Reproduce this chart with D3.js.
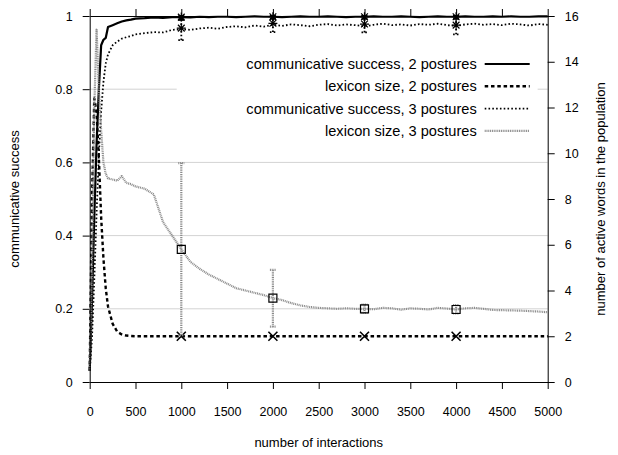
<!DOCTYPE html>
<html>
<head>
<meta charset="utf-8">
<script src="https://cdn.jsdelivr.net/npm/d3@7"></script>
<style>
    body { margin: 0; background: #fff; }
    svg text { font-family: "Liberation Sans", Arial, Helvetica, sans-serif; fill: #000; }
    .axis path, .axis line { stroke: #000; stroke-width: 1; }
</style>
</head>
<body>
<div id="chart"></div>
<script>

// sampling points (number of interactions)
const iterations = [0, 25, 50, 75, 100, 125, 150, 175, 200, 250, 300, 350, 400, 450, 500,
    600, 700, 800, 900, 1000, 1100, 1200, 1300, 1400, 1500, 1600, 1700, 1800, 1900, 2000,
    2100, 2200, 2300, 2400, 2500, 2600, 2700, 2800, 2900, 3000, 3100, 3200, 3300, 3400, 3500,
    3600, 3700, 3800, 3900, 4000, 4100, 4200, 4300, 4400, 4500, 4600, 4700, 4800, 4900, 5000];

// communicative success, 2 postures (left axis)
const success2 = [0.03, 0.22, 0.45, 0.65, 0.80, 0.92, 0.935, 0.94, 0.97, 0.975, 0.98, 0.985, 0.988, 0.99, 0.993,
    0.994, 0.996, 0.995, 0.997, 0.997, 0.996, 0.998, 0.997, 0.998, 0.998, 0.997, 0.998, 0.999, 0.998, 0.998,
    0.997, 0.998, 0.999, 0.998, 0.998, 0.999, 0.998, 0.997, 0.998, 0.998, 0.999, 0.998, 0.998, 0.999, 0.998,
    0.997, 0.998, 0.999, 0.998, 0.998, 0.999, 0.998, 0.998, 0.999, 0.998, 0.999, 0.998, 0.998, 0.999, 0.999];

// lexicon size, 2 postures (right axis)
const lexicon2 = [0.5, 8, 12.4, 11.8, 9.8, 7.2, 5.4, 4.1, 3.3, 2.55, 2.2, 2.08, 2.03, 2.01, 2.0,
    2, 2, 2, 2, 2, 2, 2, 2, 2, 2, 2, 2, 2, 2, 2,
    2, 2, 2, 2, 2, 2, 2, 2, 2, 2, 2, 2, 2, 2, 2,
    2, 2, 2, 2, 2, 2, 2, 2, 2, 2, 2, 2, 2, 2, 2];

// communicative success, 3 postures (left axis)
const success3 = [0.03, 0.12, 0.28, 0.46, 0.62, 0.74, 0.82, 0.87, 0.895, 0.92, 0.93, 0.938, 0.942, 0.945, 0.950,
    0.953, 0.956, 0.955, 0.962, 0.964, 0.962, 0.966, 0.968, 0.965, 0.970, 0.972, 0.969, 0.974, 0.971, 0.976,
    0.973, 0.977, 0.975, 0.972, 0.976, 0.978, 0.974, 0.977, 0.975, 0.972, 0.976, 0.979, 0.975, 0.977, 0.974,
    0.978, 0.976, 0.979, 0.975, 0.973, 0.977, 0.979, 0.976, 0.978, 0.975, 0.979, 0.977, 0.974, 0.978, 0.976];

// lexicon size, 3 postures (right axis)
const lexicon3 = [0.5, 5, 12, 15.4, 12.8, 11, 9.6, 9.1, 8.9, 8.85, 8.8, 9.0, 8.7, 8.65, 8.55,
    8.45, 8.2, 7.0, 6.4, 5.8, 5.25, 4.95, 4.7, 4.5, 4.3, 4.1, 4.0, 3.9, 3.8, 3.67,
    3.58, 3.45, 3.35, 3.28, 3.24, 3.22, 3.2, 3.22, 3.2, 3.2, 3.18, 3.24, 3.22, 3.16, 3.22,
    3.2, 3.17, 3.24, 3.21, 3.17, 3.22, 3.24, 3.2, 3.15, 3.14, 3.13, 3.12, 3.1, 3.08, 3.05];

// error bars
const errIter = [1000, 2000, 3000, 4000];
const success2Err = {mean: [0.997, 0.998, 0.998, 0.998], lo: [0.99, 0.993, 0.993, 0.993], hi: [1, 1, 1, 1]};
const lexicon2Err = {mean: [2, 2, 2, 2], lo: [2, 2, 2, 2], hi: [2, 2, 2, 2]};
const success3Err = {mean: [0.967, 0.98, 0.978, 0.975], lo: [0.934, 0.956, 0.955, 0.95], hi: [0.99, 1, 1, 1]};
const lexicon3Err = {mean: [5.8, 3.67, 3.2, 3.17], lo: [2.05, 2.42, 3.02, 3.0], hi: [9.57, 4.9, 3.38, 3.36]};

// tick values
const xTicks = [0, 500, 1000, 1500, 2000, 2500, 3000, 3500, 4000, 4500, 5000];
const yTicks = [0, 0.2, 0.4, 0.6, 0.8, 1];
const y2Ticks = [0, 2, 4, 6, 8, 10, 12, 14, 16];
const gridTicks = [0.2, 0.4, 0.6, 0.8];

const legendLabels = ["communicative success, 2 postures", "lexicon size, 2 postures",
    "communicative success, 3 postures", "lexicon size, 3 postures"];

let margin = {top: 16, right: 70.3, bottom: 73, left: 89.7};
let width = 618 - margin.left - margin.right;
let height = 455 - margin.top - margin.bottom;

let svg = d3.select("#chart").append("svg")
    .attr("width", 618)
    .attr("height", 455);

let g = svg.append("g")
    .attr("transform", "translate(" + margin.left + "," + margin.top + ")");

// scales
let x = d3.scaleLinear().domain([0, 5000]).range([0, width]);
let y = d3.scaleLinear().domain([0, 1]).range([height, 0]);
let y2 = d3.scaleLinear().domain([0, 16]).range([height, 0]);

// series styles (gnuplot-like)
let styles = [
    {stroke: "#000", width: 2.2, dash: null, marker: "star", scale: y},
    {stroke: "#000", width: 2.4, dash: "3.5,2.8", marker: "cross", scale: y2},
    {stroke: "#000", width: 1.8, dash: "1.6,2.2", marker: "star", scale: y},
    {stroke: "#8a8a8a", width: 2.2, dash: "1,0.8", marker: "square", scale: y2}
];
let seriesValues = [success2, lexicon2, success3, lexicon3];
let seriesErr = [success2Err, lexicon2Err, success3Err, lexicon3Err];

// grid
g.append("g").attr("class", "grid")
    .selectAll("line")
    .data(gridTicks)
    .enter().append("line")
    .attr("x1", 0).attr("x2", width)
    .attr("y1", d => y(d)).attr("y2", d => y(d))
    .attr("stroke", "#d3d3d3")
    .attr("stroke-width", 1);

// marker shapes
function markerPath(type, s) {
    if (type === "star") {
        return `M${-s},0L${s},0M0,${-s}L0,${s}M${-s * 0.75},${-s * 0.75}L${s * 0.75},${s * 0.75}M${-s * 0.75},${s * 0.75}L${s * 0.75},${-s * 0.75}`;
    }
    if (type === "cross") {
        return `M${-s},${-s}L${s},${s}M${-s},${s}L${s},${-s}`;
    }
    return `M${-s},${-s}L${s},${-s}L${s},${s}L${-s},${s}Z`;
}

let pathGroup = g.append("g").attr("class", "series");

seriesValues.forEach(function(values, i) {
    let st = styles[i];
    let line = d3.line()
        .x((d, j) => x(iterations[j]))
        .y(d => st.scale(d));

    pathGroup.append("path")
        .datum(values)
        .attr("d", line)
        .attr("fill", "none")
        .attr("stroke", st.stroke)
        .attr("stroke-width", st.width)
        .attr("stroke-linejoin", "round")
        .attr("stroke-dasharray", st.dash);

    // error bars
    let err = seriesErr[i];
    let eb = pathGroup.append("g").attr("class", "errorbars");
    errIter.forEach(function(it, j) {
        let cx = x(it);
        let lo = st.scale(err.lo[j]), hi = st.scale(err.hi[j]);
        if (Math.abs(lo - hi) > 0.5) {
            eb.append("path")
                .attr("d", `M${cx},${lo}L${cx},${hi}M${cx - 3},${lo}L${cx + 3},${lo}M${cx - 3},${hi}L${cx + 3},${hi}`)
                .attr("fill", "none")
                .attr("stroke", st.stroke)
                .attr("stroke-width", st.width)
                .attr("stroke-dasharray", st.dash);
        }
        eb.append("path")
            .attr("transform", `translate(${cx},${st.scale(err.mean[j])})`)
            .attr("d", markerPath(st.marker, st.marker === "square" ? 4 : 4.5))
            .attr("fill", "none")
            .attr("stroke", "#000")
            .attr("stroke-width", st.marker === "cross" ? 1.6 : 1.2);
    });
});

// legend
let legend = g.append("g").attr("class", "legend");
legend.append("rect")
    .attr("x", x(950)).attr("y", 37)
    .attr("width", x(4890) - x(950)).attr("height", 88)
    .attr("fill", "#fff");

legendLabels.forEach(function(label, i) {
    let ly = 48 + i * 22.3;
    let st = styles[i];
    legend.append("text")
        .attr("x", 387)
        .attr("y", ly)
        .attr("dy", "0.35em")
        .attr("text-anchor", "end")
        .style("font-size", "14.6px")
        .text(label);
    legend.append("line")
        .attr("x1", 395).attr("x2", 440)
        .attr("y1", ly).attr("y2", ly)
        .attr("stroke", st.stroke)
        .attr("stroke-width", st.width)
        .attr("stroke-dasharray", st.dash);
});

// axes
let xAxis = g.append("g")
    .attr("class", "axis axis--x")
    .attr("transform", "translate(0," + height + ")")
    .call(d3.axisBottom(x).tickValues(xTicks).tickSize(7).tickSizeOuter(0).tickPadding(18).tickFormat(d3.format("d")));

let xTop = g.append("g")
    .attr("class", "axis axis--top")
    .call(d3.axisTop(x).tickValues(xTicks).tickSize(7).tickSizeOuter(0).tickFormat(""));

let yAxis = g.append("g")
    .attr("class", "axis axis--y")
    .call(d3.axisLeft(y).tickValues(yTicks).tickSize(7).tickSizeOuter(0).tickPadding(10).tickFormat(d3.format("~g")));

let y2Axis = g.append("g")
    .attr("class", "axis axis--y2")
    .attr("transform", "translate(" + width + ",0)")
    .call(d3.axisRight(y2).tickValues(y2Ticks).tickSize(7).tickSizeOuter(0).tickPadding(10));

g.selectAll(".axis text").style("font-size", "12.5px");

// axis labels
svg.append("text")
    .attr("transform", "translate(" + (margin.left + width / 2) + ",447)")
    .style("text-anchor", "middle")
    .style("font-size", "13px")
    .text("number of interactions");

svg.append("text")
    .attr("transform", "translate(19," + (margin.top + height / 2) + ") rotate(-90)")
    .style("text-anchor", "middle")
    .style("font-size", "13px")
    .text("communicative success");

svg.append("text")
    .attr("transform", "translate(605," + (margin.top + height / 2) + ") rotate(-90)")
    .style("text-anchor", "middle")
    .style("font-size", "13px")
    .text("number of active words in the population");

</script>
</body>
</html>
